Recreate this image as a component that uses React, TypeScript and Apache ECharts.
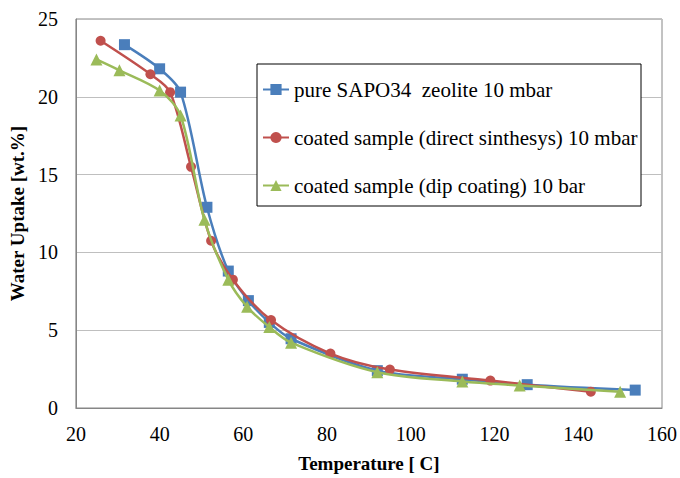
import React, { useEffect, useRef } from "react";
import * as echarts from "echarts";

const seriesNames = [
  "pure SAPO34  zeolite 10 mbar",
  "coated sample (direct sinthesys) 10 mbar",
  "coated sample (dip coating) 10 bar",
];

const blueX = [31.6, 40.0, 45.0, 51.3, 56.4, 61.2, 66.2, 71.4, 92.0, 112.3, 127.8, 153.6];
const blueY = [23.35, 21.8, 20.3, 12.9, 8.8, 6.9, 5.5, 4.45, 2.4, 1.85, 1.5, 1.15];

const redX = [25.9, 37.8, 42.5, 47.5, 52.3, 57.5, 66.6, 80.8, 95.0, 119.0, 143.0];
const redY = [23.6, 21.45, 20.3, 15.5, 10.75, 8.25, 5.65, 3.5, 2.47, 1.76, 1.05];

const greenX = [24.9, 30.4, 40.0, 45.0, 50.7, 56.4, 60.9, 66.2, 71.4, 92.0, 112.3, 126.0, 150.0];
const greenY = [22.4, 21.7, 20.4, 18.8, 12.1, 8.25, 6.5, 5.2, 4.2, 2.3, 1.7, 1.45, 1.05];

const colors = ["#4A7EBB", "#C0504D", "#9BBB59"];
const symbols = ["rect", "circle", "triangle"];

const zip = (xs: number[], ys: number[]) => xs.map((x, i) => [x, ys[i]]);

export default function App() {
  const ref = useRef<HTMLDivElement>(null);
  useEffect(() => {
    if (!ref.current) return;
    const chart = echarts.init(ref.current, undefined, { renderer: "svg" });
    const font = "Liberation Serif";
    const datasets = [zip(blueX, blueY), zip(redX, redY), zip(greenX, greenY)];
    chart.setOption({
      animation: false,
      backgroundColor: "#ffffff",
      textStyle: { fontFamily: font },
      grid: {
        left: 74.5,
        right: 18,
        top: 19,
        bottom: 62,
        show: true,
        borderColor: "#868686",
        borderWidth: 1,
        containLabel: false,
      },
      legend: {
        orient: "vertical",
        left: 262,
        top: 79,
        padding: 0,
        itemWidth: 26,
        itemHeight: 14,
        itemGap: 27,
        textStyle: { fontFamily: font, fontSize: 21, color: "#000" },
        data: seriesNames,
      },
      graphic: [
        {
          type: "rect",
          shape: { x: 257, y: 64, width: 384, height: 142 },
          style: { fill: "#ffffff", stroke: "#000000", lineWidth: 1 },
          z: 3,
        },
      ],
      xAxis: {
        type: "value",
        min: 20,
        max: 160,
        interval: 20,
        name: "Temperature [ C]",
        nameLocation: "middle",
        nameGap: 46,
        nameTextStyle: { fontFamily: font, fontSize: 19, fontWeight: "bold", color: "#000" },
        axisLine: { show: true, lineStyle: { color: "#868686" } },
        axisTick: { show: false },
        splitLine: { show: false },
        axisLabel: { fontFamily: font, fontSize: 20, color: "#000", margin: 16 },
      },
      yAxis: {
        type: "value",
        min: 0,
        max: 25,
        interval: 5,
        name: "Water Uptake [wt.%]",
        nameLocation: "middle",
        nameGap: 48,
        nameTextStyle: { fontFamily: font, fontSize: 19, fontWeight: "bold", color: "#000" },
        axisLine: { show: true, lineStyle: { color: "#868686" } },
        axisTick: { show: false },
        splitLine: { show: true, lineStyle: { color: "#BFBFBF", width: 1 } },
        axisLabel: { fontFamily: font, fontSize: 20, color: "#000", margin: 18 },
      },
      series: seriesNames.map((name, i) => ({
        name,
        type: "line",
        data: datasets[i],
        smooth: 0.3,
        symbol: symbols[i],
        symbolSize: i === 0 ? 11 : i === 1 ? 10 : 12,
        showAllSymbol: true,
        color: colors[i],
        lineStyle: { color: colors[i], width: 2.5 },
        itemStyle: { color: colors[i] },
        z: 2 + i,
      })),
    });
    return () => chart.dispose();
  }, []);
  return (
    <div style={{ position: "absolute", left: 0, top: 0 }}>
      <div ref={ref} style={{ width: 680, height: 478 }} />
    </div>
  );
}
